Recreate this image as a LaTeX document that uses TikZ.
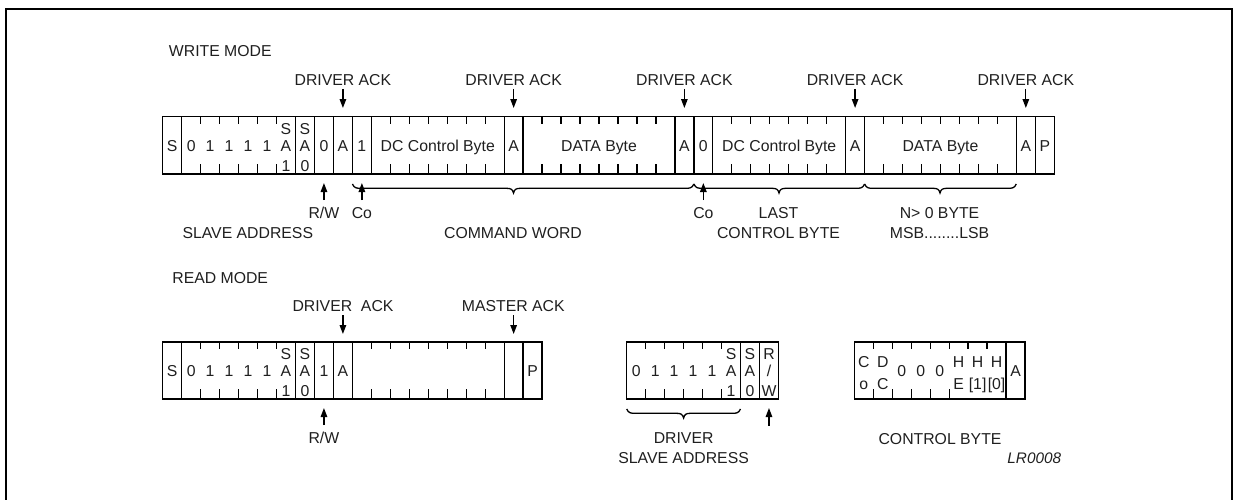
\documentclass[tikz,border=0pt]{standalone}
\usepackage{fontspec}
\setmainfont{Liberation Sans}
\usetikzlibrary{arrows.meta}
\newcommand\brc[4]{%
  \draw (#1,#4) .. controls (#1+2,#4+4.3) and (#1+4,#4+4.3) .. (#1+9,#4+4.3)
    -- (#2-7,#4+4.3) .. controls (#2-3,#4+4.3) and (#2-1,#4+5) .. (#2,#4+9)
    .. controls (#2+1,#4+5) and (#2+3,#4+4.3) .. (#2+7,#4+4.3)
    -- (#3-9,#4+4.3) .. controls (#3-4,#4+4.3) and (#3-2,#4+4.3) .. (#3,#4);}
\begin{document}
\begin{tikzpicture}[x=1pt,y=-1pt,line width=1.3pt,
  txt/.style={inner sep=0pt,text height=11.3pt,text depth=0pt,text=black!88,
              font=\fontsize{15.8}{18}\selectfont},
  arr/.style={-{Triangle[length=9pt,width=6.5pt]},line width=1.3pt}]
\useasboundingbox (0,0) rectangle (1235,499);
\draw[line width=2pt] (6,510) -- (6,9.3) -- (1231.7,9.3) -- (1231.7,510);
\def\WX{162.7}\def\W{18.97}
% ================= WRITE MODE =================
\node[txt,anchor=west] (wm) at (168.3,50.7) {WRITE MODE};
\draw (\WX,116.7) rectangle ({\WX+47*\W},174);
\foreach \k in {1,7,8,9,10,11,18,19,27,28,29,36,37,45,46}
  \draw ({\WX+\k*\W},116.7) -- ({\WX+\k*\W},174);
\foreach \k in {2,3,4,5,6,12,13,14,15,16,17,20,21,22,23,24,25,26,30,31,32,33,34,35,38,39,40,41,42,43,44}{
  \draw ({\WX+\k*\W},116.7) -- ++(0,7);
  \draw ({\WX+\k*\W},174) -- ++(0,-10);}
\foreach \i/\t in {0/S,1/0,2/1,3/1,4/1,5/1,8/0,9/A,10/1,18/A,27/A,28/0,36/A,45/A,46/P}
  \node[txt] (w\i) at ({\WX+(\i+0.5)*\W},146) {\t};
\foreach \i/\d in {6/1,7/0}{
  \node[txt] (ws\i) at ({\WX+(\i+0.5)*\W},128.5) {S};
  \node[txt] (wa\i) at ({\WX+(\i+0.5)*\W},146) {A};
  \node[txt] (wd\i) at ({\WX+(\i+0.5)*\W},165.5) {\d};}
\node[txt] (wdc1) at ({\WX+14.5*\W},146) {DC Control Byte};
\node[txt] (wdb1) at ({\WX+23*\W},146) {DATA Byte};
\node[txt] (wdc2) at ({\WX+32.5*\W},146) {DC Control Byte};
\node[txt] (wdb2) at ({\WX+41*\W},146) {DATA Byte};
\foreach \i in {9,18,27,36,45}{
  \node[txt] (ack\i) at ({\WX+(\i+0.5)*\W},80) {DRIVER ACK};
  \coordinate (ackt\i) at ({\WX+(\i+0.5)*\W},108);
  \draw[arr] ([yshift=-2.5pt]ack\i.south) -- (ackt\i);}
% bottom labels
\node[txt] (rw1) at ({\WX+8.5*\W},213.3) {R/W};
\coordinate (rw1t) at ({\WX+8.5*\W},183);
\draw[arr] ([yshift=7pt]rw1.north) -- (rw1t);
\node[txt] (co1) at ({\WX+10.5*\W},213.3) {Co};
\coordinate (co1t) at ({\WX+10.5*\W},183);
\draw[arr] ([yshift=7pt]co1.north) -- (co1t);
\node[txt] (co2) at ({\WX+28.5*\W},213.3) {Co};
\coordinate (co2t) at ({\WX+28.5*\W},183);
\draw[arr] ([yshift=7pt]co2.north) -- (co2t);
\brc{352.4}{513.5}{693.9}{184}
\brc{693.9}{779}{864.6}{184}
\brc{864.6}{940}{1016.3}{184}
\node[txt] (sa) at (247.8,232.7) {SLAVE ADDRESS};
\node[txt] (cw) at (513,232.7) {COMMAND WORD};
\node[txt] (last) at (778.5,212.7) {LAST};
\node[txt] (cb) at (778.5,232.7) {CONTROL BYTE};
\node[txt] (nb) at (939.5,212.7) {N> 0 BYTE};
\node[txt] (ml) at (939.5,232.7) {MSB........LSB};
% ================= READ MODE =================
\node[txt,anchor=west] (rm) at (171.7,278.3) {READ MODE};
\draw (\WX,342) rectangle ({\WX+20*\W},399);
\foreach \k in {1,7,8,9,10,18,19}
  \draw ({\WX+\k*\W},342) -- ({\WX+\k*\W},399);
\foreach \k in {2,3,4,5,6,11,12,13,14,15,16,17}{
  \draw ({\WX+\k*\W},342) -- ++(0,7);
  \draw ({\WX+\k*\W},399) -- ++(0,-10);}
\foreach \i/\t in {0/S,1/0,2/1,3/1,4/1,5/1,8/1,9/A,19/P}
  \node[txt] (r\i) at ({\WX+(\i+0.5)*\W},371.3) {\t};
\foreach \i/\d in {6/1,7/0}{
  \node[txt] (rs\i) at ({\WX+(\i+0.5)*\W},353.8) {S};
  \node[txt] (ra\i) at ({\WX+(\i+0.5)*\W},371.3) {A};
  \node[txt] (rd\i) at ({\WX+(\i+0.5)*\W},390.8) {\d};}
\node[txt] (rack) at (343,306) {DRIVER\ \ ACK};
\coordinate (rackt) at ({\WX+9.5*\W},334);
\draw[arr] ([yshift=-3pt]rack.south-|rackt) -- (rackt);
\node[txt] (mack) at (513.3,306) {MASTER ACK};
\coordinate (mackt) at ({\WX+18.5*\W},334);
\draw[arr] ([yshift=-3pt]mack.south-|mackt) -- (mackt);
\node[txt] (rw2) at ({\WX+8.5*\W},438.3) {R/W};
\coordinate (rw2t) at ({\WX+8.5*\W},408);
\draw[arr] ([yshift=7pt]rw2.north) -- (rw2t);
% ---- driver slave address box
\def\DX{626.7}
\draw (\DX,342) rectangle ({\DX+8*\W},399);
\foreach \k in {6,7} \draw ({\DX+\k*\W},342) -- ({\DX+\k*\W},399);
\foreach \k in {1,2,3,4,5}{
  \draw ({\DX+\k*\W},342) -- ++(0,7);
  \draw ({\DX+\k*\W},399) -- ++(0,-10);}
\foreach \i/\t in {0/0,1/1,2/1,3/1,4/1}
  \node[txt] (d\i) at ({\DX+(\i+0.5)*\W},371.3) {\t};
\foreach \i/\a/\b/\c in {5/S/A/1,6/S/A/0,7/R/\slash/W}{
  \node[txt] (dt\i) at ({\DX+(\i+0.5)*\W},353.8) {\a};
  \node[txt] (dm\i) at ({\DX+(\i+0.5)*\W},371.3) {\b};
  \node[txt] (db\i) at ({\DX+(\i+0.5)*\W},390.8) {\c};}
\brc{\DX}{683.6}{740.5}{409}
\node[txt] (rw3) at ({\DX+7.5*\W},440) {\phantom{W}};
\coordinate (rw3t) at ({\DX+7.5*\W},408);
\draw[arr] ([yshift=8pt]rw3.north) -- (rw3t);
\node[txt] (drv) at (683.6,438.3) {DRIVER};
\node[txt] (dsa) at (683.6,458.3) {SLAVE ADDRESS};
% ---- control byte box
\def\CX{854.3}
\draw (\CX,342) rectangle ({\CX+9*\W},399);
\draw ({\CX+8*\W},342) -- ({\CX+8*\W},399);
\foreach \k in {1,2,3,4,5,6,7} \draw ({\CX+\k*\W},342) -- ++(0,7);
\foreach \k in {1,2,3,4,5} \draw ({\CX+\k*\W},399) -- ++(0,-10);
\foreach \i/\a/\b in {0/C/o,1/D/C,5/H/E,6/H/[1],7/H/[0]}{
  \node[txt] (ct\i) at ({\CX+(\i+0.5)*\W},362) {\a};
  \node[txt] (cb\i) at ({\CX+(\i+0.5)*\W},384) {\b};}
\foreach \i/\t in {2/0,3/0,4/0,8/A}
  \node[txt] (cm\i) at ({\CX+(\i+0.5)*\W},371.3) {\t};
\node[txt] (ctl) at (940,439.3) {CONTROL BYTE};
\node[txt,anchor=east,font=\fontsize{15.3}{18}\selectfont\itshape] (lr) at (1061.7,458.3) {LR0008};
\end{tikzpicture}
\end{document}
